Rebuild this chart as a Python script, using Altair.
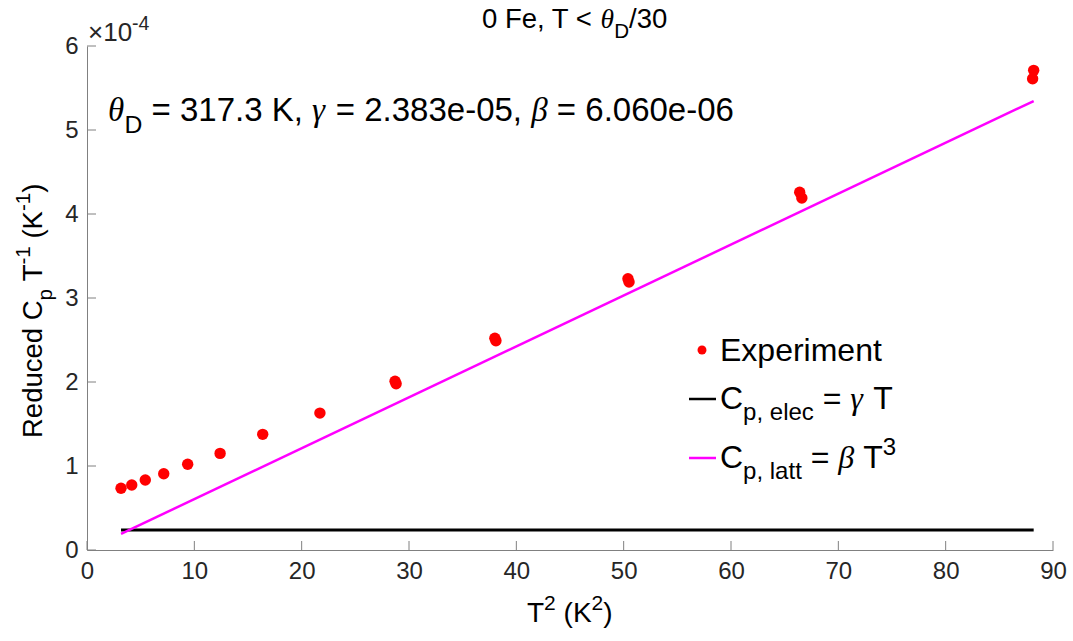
import altair as alt
import pandas as pd

# ---------------- data (Cp/T in units of 1e-4 K^-1) ----------------
t2_exp = [3.17, 4.17, 5.43, 7.15, 9.38, 12.4, 16.37, 21.7, 28.7, 28.8,
          38.0, 38.1, 50.4, 50.5, 66.4, 66.6, 88.2, 88.1]
cpt_exp = [0.735, 0.774, 0.833, 0.908, 1.02, 1.15, 1.377, 1.63, 2.01, 1.98,
           2.52, 2.49, 3.23, 3.19, 4.26, 4.19, 5.71, 5.61]
elec_t2 = [3.17, 88.2]
elec_cpt = [0.2383, 0.2383]
latt_t2 = [3.17, 88.2]
latt_cpt = [0.192, 5.345]
x_ticks = [0, 10, 20, 30, 40, 50, 60, 70, 80, 90]
y_ticks = [0, 1, 2, 3, 4, 5, 6]

# ---------------- layout ----------------
W, H = 966, 504
OX, OY = 87, 46
AX = "#808080"
LAB = "#262626"
SANS = "Liberation Sans"
SERIF = "Liberation Serif"
R = 0.75      # sub/superscript size ratio
SUB = 0.35    # subscript drop (em)
SUP = 0.42    # superscript raise (em)

AW = {' ': 278, '(': 333, ')': 333, ',': 278, '-': 333, '.': 278, '/': 278,
      '=': 584, '<': 584, '×': 584, 'A': 667, 'C': 722, 'D': 722, 'E': 667,
      'F': 611, 'K': 667, 'R': 722, 'T': 611, 'a': 556, 'c': 500, 'd': 556,
      'e': 556, 'i': 222, 'l': 222, 'm': 833, 'n': 556, 'p': 556, 'r': 333,
      't': 278, 'u': 556, 'x': 500}
GW = {'θ': 500, 'γ': 440, 'β': 500}


def tw(txt, size, greek=False):
    tab = GW if greek else AW
    return sum(tab.get(c, 556) for c in txt) * size / 1000.0


def text_layer(txt, px, py, size, font, style, angle, color):
    kw = dict(align='left', baseline='alphabetic', font=font, fontSize=size,
              fontStyle=style, color=color)
    if angle:
        kw['angle'] = angle
    return alt.Chart(pd.DataFrame({'t': [txt]})).mark_text(**kw).encode(
        x=alt.value(px - OX), y=alt.value(py - OY), text='t:N')


def rich(segs, X, Y, s, angle=0, color='black'):
    out = []
    off = 0.0
    for txt, kind in segs:
        size, dy = s, 0.0
        if kind == 'b':
            size, dy = s * R, s * SUB
        elif kind == 'p':
            size, dy = s * R, -s * SUP
        greek = kind == 'g'
        lead = len(txt) - len(txt.lstrip(' '))
        off += tw(' ' * lead, size)
        body = txt.strip(' ')
        if angle == 0:
            px, py = X + off, Y + dy
        else:
            px, py = X + dy, Y - off
        out.append(text_layer(body, px, py, size, SERIF if greek else SANS,
                              'italic' if greek else 'normal', angle, color))
        off += tw(body, size, greek)
        off += tw(' ' * (len(txt) - lead - len(body)), size)
    return out


xs = alt.Scale(domain=[0, 90], nice=False, zero=False)
ys = alt.Scale(domain=[0, 6], nice=False, zero=False)

axis_common = dict(title=None, ticks=False, tickSize=0, grid=False, domainColor=AX,
                   domainWidth=1, labelColor=LAB, labelFont=SANS, labelFontSize=24,
                   labelFlush=False, labelOverlap=False, labelPadding=9, format='d')
xaxis = alt.Axis(values=x_ticks, **axis_common)
yaxis = alt.Axis(values=y_ticks, **axis_common)

df_exp = pd.DataFrame({'t2': t2_exp, 'cpt': cpt_exp})
df_elec = pd.DataFrame({'t2': elec_t2, 'cpt': elec_cpt})
df_latt = pd.DataFrame({'t2': latt_t2, 'cpt': latt_cpt})

points = alt.Chart(df_exp).mark_circle(size=130, color='#ff0000', opacity=1).encode(
    x=alt.X('t2:Q', scale=xs, axis=xaxis),
    y=alt.Y('cpt:Q', scale=ys, axis=yaxis),
)
elec = alt.Chart(df_elec).mark_line(color='black', strokeWidth=3).encode(
    x=alt.X('t2:Q', scale=xs, axis=xaxis), y=alt.Y('cpt:Q', scale=ys, axis=yaxis))
latt = alt.Chart(df_latt).mark_line(color='#ff00ff', strokeWidth=2.5).encode(
    x=alt.X('t2:Q', scale=xs, axis=xaxis), y=alt.Y('cpt:Q', scale=ys, axis=yaxis))

xt = alt.Chart(pd.DataFrame({'t2': x_ticks})).mark_rule(color=AX, strokeWidth=1).encode(
    x=alt.X('t2:Q', scale=xs, axis=xaxis), y=alt.value(H), y2=alt.value(H - 9))
yt = alt.Chart(pd.DataFrame({'cpt': y_ticks})).mark_rule(color=AX, strokeWidth=1).encode(
    y=alt.Y('cpt:Q', scale=ys, axis=yaxis), x=alt.value(0), x2=alt.value(9))

texts = []
# title
texts += rich([('0 Fe, T < ', 'n'), ('θ', 'g'), ('D', 'b'), ('/30', 'n')], 482, 28, 27.5)
# exponent
texts += rich([('×10', 'n'), ('-4', 'p')], 88, 41, 26, color=LAB)
# annotation
texts += rich([('θ', 'g'), ('D', 'b'), (' = 317.3 K, ', 'n'), ('γ', 'g'),
               (' = 2.383e-05, ', 'n'), ('β', 'g'), (' = 6.060e-06', 'n')], 108, 121, 33)
# x title
texts += rich([('T', 'n'), ('2', 'p'), (' (K', 'n'), ('2', 'p'), (')', 'n')], 527, 622, 28)
# y title
texts += rich([('Reduced C', 'n'), ('p', 'b'), (' T', 'n'), ('-1', 'p'), (' (K', 'n'),
               ('-1', 'p'), (')', 'n')], 42, 438, 27.5, angle=270)
# legend
texts += rich([('Experiment', 'n')], 720, 361, 32)
texts += rich([('C', 'n'), ('p, elec', 'b'), (' = ', 'n'), ('γ', 'g'), (' T', 'n')], 720, 409, 32)
texts += rich([('C', 'n'), ('p, latt', 'b'), (' = ', 'n'), ('β', 'g'), (' T', 'n'), ('3', 'p')],
              720, 468, 32)

leg_dot = alt.Chart(pd.DataFrame({'t': ['Experiment']})).mark_circle(
    size=80, color='#ff0000', opacity=1).encode(x=alt.value(702 - OX), y=alt.value(350 - OY))
leg_elec = alt.Chart(pd.DataFrame({'t': ['elec']})).mark_rule(color='black', strokeWidth=2.5).encode(
    x=alt.value(689 - OX), x2=alt.value(716 - OX), y=alt.value(399 - OY))
leg_latt = alt.Chart(pd.DataFrame({'t': ['latt']})).mark_rule(color='#ff00ff', strokeWidth=2.5).encode(
    x=alt.value(689 - OX), x2=alt.value(716 - OX), y=alt.value(458 - OY))

chart = alt.layer(points, elec, latt, xt, yt, leg_dot, leg_elec, leg_latt, *texts).properties(
    width=W, height=H,
    autosize=alt.AutoSizeParams(type='none'),
    padding={'left': OX, 'top': OY, 'right': 1073 - OX - W, 'bottom': 641 - OY - H},
    background='white',
).configure_view(stroke=None)

chart.save("out.html", embed_options={"renderer": "svg", "actions": False})
